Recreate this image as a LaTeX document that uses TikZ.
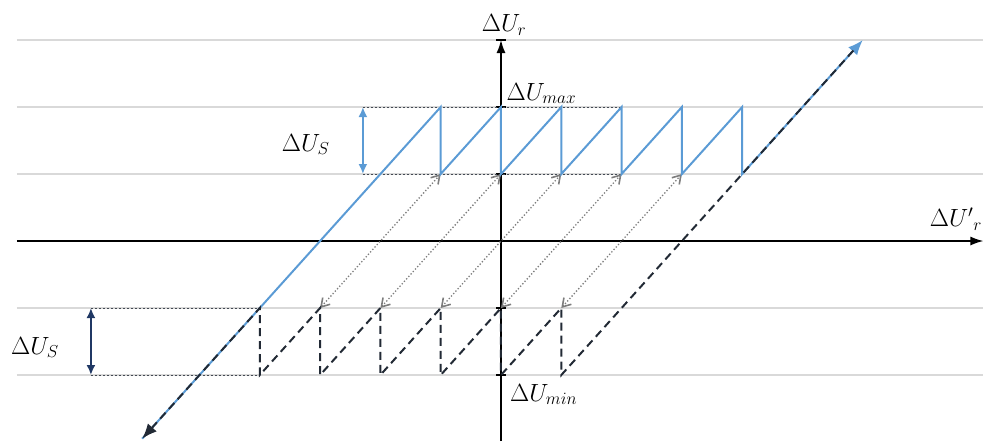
\documentclass[tikz,border=0pt]{standalone}
\usepackage{amsmath,amssymb}
\usepackage{xcolor}
\usetikzlibrary{arrows.meta, positioning}
\definecolor{rampblue}{RGB}{91,155,213}
\definecolor{stepnavy}{RGB}{32,56,100}
\definecolor{dashdark}{RGB}{34,42,53}
\definecolor{gridgray}{RGB}{217,217,217}
\definecolor{linkgray}{RGB}{125,125,125}
\tikzset{
  gridline/.style={gridgray, line width=1.4pt},
  axisline/.style={-{Latex[length=13pt,width=9pt]}, line width=1.5pt, black},
  tickmark/.style={line width=1.2pt, black},
  ramp/.style={rampblue, line width=2pt, line join=miter},
  rampdash/.style={dashdark, line width=2pt, dash pattern=on 8pt off 5pt},
  guide/.style={dashdark!85, line width=1pt, dash pattern=on 2.5pt off 1.5pt},
  link/.style={
    {Straight Barb[length=8pt, width=10pt, line width=1.6pt]}-{Straight Barb[length=8pt, width=10pt, line width=1.6pt]},
    linkgray, line width=1.3pt, dash pattern=on 1.3pt off 2pt
  },
  spanarrow/.style={{Latex[length=10pt,width=9pt]}-{Latex[length=10pt,width=9pt]},
    line width=2.2pt},
  lbl/.style={font=\fontsize{24}{28}\selectfont, inner sep=0pt}
}

\begin{document}
\begin{tikzpicture}[x=60.3pt, y=67pt]
  \useasboundingbox (-8.308,-2.985) rectangle (8.076,3.597);

  % grid
  \draw[gridline] (-8.03,3) -- (8,3);
  \draw[gridline] (-8.03,2) -- (8,2);
  \draw[gridline] (-8.03,1) -- (8,1);
  \draw[gridline] (-8.03,-1) -- (8,-1);
  \draw[gridline] (-8.03,-2) -- (8,-2);

  % axes
  \coordinate (orig) at (0,0);
  \coordinate (xend) at (8,0);
  \coordinate (yend) at (0,3);
  \draw[axisline] (-8.03,0) -- (xend);
  \draw[axisline] (0,-2.985) -- (yend);
  \draw[tickmark] (-0.08,3) -- (0.08,3);
  \draw[tickmark] (-0.08,2) -- (0.08,2);
  \draw[tickmark] (-0.08,1) -- (0.08,1);
  \draw[tickmark] (-0.08,-1) -- (0.08,-1);
  \draw[tickmark] (-0.08,-2) -- (0.08,-2);

  % guide lines
  \draw[guide] (-2.29,2) -- (2,2);
  \draw[guide] (-2.29,1) -- (2,1);
  \draw[guide] (-6.8,-1) -- (-4,-1);
  \draw[guide] (-6.8,-2) -- (-4,-2);

  % links between the two sawtooth branches
  \draw[link] (-3,-1) -- (-1,1);
  \draw[link] (-2,-1) -- (0,1);
  \draw[link] (-1,-1) -- (1,1);
  \draw[link] (0,-1) -- (2,1);
  \draw[link] (1,-1) -- (3,1);

  % rising branch
  \draw[ramp, -{Latex[length=15pt,width=12pt]}] (-5.95,-2.95) -- (-1,2) -- (-1,1)
    -- (0,2) -- (0,1) -- (1,2) -- (1,1) -- (2,2) -- (2,1) -- (3,2) -- (3,1)
    -- (4,2) -- (4,1) -- (6,3);

  % falling branch
  \draw[rampdash, {Latex[length=15pt,width=12pt]}-, shorten >=10pt]
    (-5.95,-2.95) -- (-4,-1) -- (-4,-2) -- (-3,-1) -- (-3,-2) -- (-2,-1)
    -- (-2,-2) -- (-1,-1) -- (-1,-2) -- (0,-1) -- (0,-2) -- (1,-1) -- (1,-2)
    -- (6,3);

  % step heights
  \draw[spanarrow, rampblue] (-2.29,2) -- (-2.29,1);
  \draw[spanarrow, stepnavy] (-6.8,-1) -- (-6.8,-2);

  % labels
  \node[lbl, anchor=base east] (dusup) at (-2.84,1.343) {$\Delta U_S$};
  \node[lbl, anchor=base east] (dusdown) at (-7.33,-1.687) {$\Delta U_S$};
  \node[lbl, anchor=base] (dur) at (0.05,3.12) {$\Delta U_r$};
  \node[lbl, anchor=base west] (dumax) at (0.09,2.104) {$\Delta U_{max}$};
  \node[lbl, anchor=base west] (dumin) at (0.15,-2.39) {$\Delta U_{min}$};
  \node[lbl, anchor=base east] (durp) at (7.98,0.21) {$\Delta {U'}_{r}$};
\end{tikzpicture}
\end{document}
